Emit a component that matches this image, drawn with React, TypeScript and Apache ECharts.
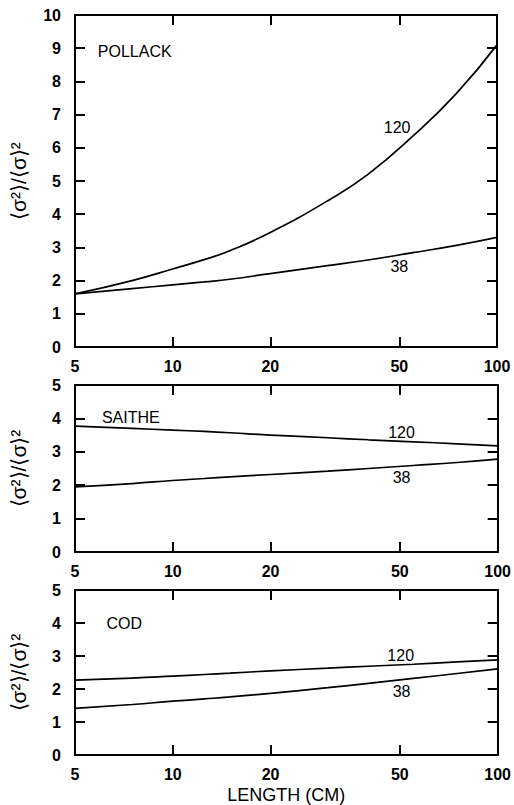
import React, { useEffect, useRef } from 'react';
import * as echarts from 'echarts';

// Lengths (cm) at which the curves were read
const xLen = [5, 7.5, 10, 12.5, 15, 20, 30, 40, 55, 75, 100];
const xTicks = [5, 10, 20, 50, 100];

// POLLACK
const pollack120 = [1.6, 2.0, 2.35, 2.63, 2.9, 3.45, 4.4, 5.2, 6.35, 7.64, 9.1];
const pollack38 = [1.6, 1.76, 1.87, 1.96, 2.04, 2.21, 2.45, 2.62, 2.84, 3.06, 3.3];
// SAITHE
const saithe120 = [3.77, 3.7, 3.65, 3.61, 3.57, 3.5, 3.42, 3.36, 3.3, 3.24, 3.18];
const saithe38 = [1.95, 2.05, 2.14, 2.2, 2.25, 2.32, 2.42, 2.5, 2.59, 2.68, 2.78];
// COD
const cod120 = [2.27, 2.33, 2.39, 2.44, 2.48, 2.55, 2.63, 2.69, 2.75, 2.82, 2.88];
const cod38 = [1.41, 1.53, 1.63, 1.7, 1.76, 1.87, 2.04, 2.17, 2.32, 2.47, 2.61];

const yTitle = '⟨σ²⟩/⟨σ⟩²';
const FONT = 'Liberation Sans';

export default function App() {
  const ref = useRef<HTMLDivElement>(null);
  useEffect(() => {
    const chart = echarts.init(ref.current!, null, { renderer: 'svg' });
    const panels = [
      { grid: { left: 70, top: 15, width: 427, height: 332 }, yMax: 10, name: 'POLLACK', s120: pollack120, s38: pollack38, nameAt: [5.88, 8.9], l120: [49.2, 6.6], l38: [50, 2.41], xName: '' },
      { grid: { left: 72, top: 385, width: 427, height: 167 }, yMax: 5, name: 'SAITHE', s120: saithe120, s38: saithe38, nameAt: [6.05, 4.04], l120: [50.6, 3.59], l38: [50.6, 2.22], xName: '' },
      { grid: { left: 73, top: 590, width: 428, height: 165 }, yMax: 5, name: 'COD', s120: cod120, s38: cod38, nameAt: [6.25, 4.0], l120: [50.3, 3.03], l38: [50.6, 1.91], xName: 'LENGTH (CM)' },
    ];
    const black = '#000';
    const axisLine = { show: true, onZero: false, lineStyle: { color: black, width: 2 } };
    const tick = (extra: any = {}) => ({ show: true, inside: true, length: 10, lineStyle: { color: black, width: 2 }, ...extra });
    const grids: any[] = [];
    const xAxes: any[] = [];
    const yAxes: any[] = [];
    const series: any[] = [];
    panels.forEach((p, i) => {
      grids.push({ ...p.grid, containLabel: false });
      const xBase = {
        gridIndex: i, type: 'log', logBase: 10, min: 5, max: 100,
        axisLine, splitLine: { show: false }, minorTick: { show: false },
      };
      xAxes.push({
        ...xBase, position: 'bottom',
        axisTick: tick({ customValues: xTicks }),
        axisLabel: { customValues: xTicks, color: black, fontSize: 16, fontWeight: 'bold', fontFamily: FONT, margin: 11, showMinLabel: true, showMaxLabel: true },
        name: p.xName, nameLocation: 'middle', nameGap: 31,
        nameTextStyle: { color: black, fontSize: 18, fontFamily: FONT },
      });
      xAxes.push({
        ...xBase, position: 'top',
        axisTick: tick({ customValues: xTicks }),
        axisLabel: { show: false },
      });
      const yBase = {
        gridIndex: i, type: 'value', min: 0, max: p.yMax, interval: 1,
        axisLine, splitLine: { show: false },
      };
      yAxes.push({
        ...yBase, position: 'left', axisTick: tick(),
        axisLabel: { color: black, fontSize: 16, fontWeight: 'bold', fontFamily: FONT, margin: 14 },
        name: yTitle, nameLocation: 'middle', nameRotate: 90, nameGap: 46,
        nameTextStyle: { color: black, fontSize: 21, fontFamily: FONT },
      });
      yAxes.push({ ...yBase, position: 'right', axisTick: tick(), axisLabel: { show: false } });

      const mk = (arr: number[]) => xLen.map((x, k) => [x, arr[k]]);
      const lineBase = {
        type: 'line', xAxisIndex: 2 * i, yAxisIndex: 2 * i, showSymbol: false, symbol: 'none',
        smooth: 0.5, lineStyle: { color: black, width: 1.7 }, silent: true,
      };
      const lbl = (text: string, fontSize: number, pos: string) => ({
        show: true, formatter: text, position: pos, distance: 0, color: black, fontSize, fontFamily: FONT,
      });
      series.push({
        ...lineBase, name: p.name + ' 120', data: mk(p.s120),
        markPoint: {
          symbol: 'circle', symbolSize: 0, silent: true,
          data: [
            { coord: p.l120, label: lbl('120', 16, 'inside') },
            { coord: p.l38, label: lbl('38', 16, 'inside') },
            { coord: p.nameAt, label: lbl(p.name, 16, 'right') },
          ],
        },
      });
      series.push({ ...lineBase, name: p.name + ' 38', data: mk(p.s38) });
    });
    chart.setOption({
      animation: false,
      backgroundColor: '#fff',
      grid: grids,
      xAxis: xAxes,
      yAxis: yAxes,
      series,
    });
    return () => chart.dispose();
  }, []);
  return <div ref={ref} style={{ position: 'absolute', left: 0, top: 0, width: 514, height: 805, background: '#fff' }} />;
}
